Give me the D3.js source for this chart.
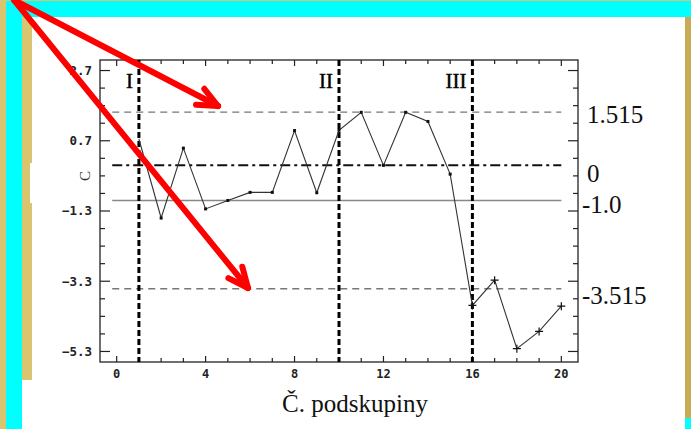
<!DOCTYPE html>
<html>
<head>
<meta charset="utf-8">
<script src="https://cdn.jsdelivr.net/npm/d3@7"></script>
<style>
  body { margin: 0; background: #fff; }
  svg { display: block; }
</style>
</head>
<body>
<div id="chart"></div>
<script>
// subgroup numbers and the plotted statistic
const subgroups = d3.range(1, 21);
const values = [0.75, -1.5, 0.49, -1.24, -1.0, -0.77, -0.77, 0.99, -0.78, 1.0,
                1.51, 0.0, 1.51, 1.25, -0.25, -3.99, -3.27, -5.22, -4.73, -4.01];
// points after the shift get "+" markers
const crossFrom = 16;

const phaseX = [1, 10, 16];
const phaseLabels = ["I", "II", "III"];

const refValues = [1.515, 0, -1.0, -3.515];
const refLabels = ["1.515", "0", "-1.0", "-3.515"];
const refStyles = ["dash", "dashdot", "solid", "dash"];

const yTickLabels = [2.7, 0.7, -1.3, -3.3, -5.3];
const xTickLabels = [0, 4, 8, 12, 16, 20];
const xTitle = "Č. podskupiny";

const W = 691, H = 429;
const svg = d3.select("#chart").append("svg").attr("width", W).attr("height", H);

// slide frame
svg.append("rect").attr("x", 0).attr("y", 0).attr("width", W).attr("height", 2).attr("fill", "#d9c56f");
svg.append("rect").attr("x", 0).attr("y", 0).attr("width", 6).attr("height", H).attr("fill", "#d9c56f");
svg.append("rect").attr("x", 6).attr("y", 1).attr("width", W - 6).attr("height", 16).attr("fill", "#00ffff");
svg.append("rect").attr("x", 6).attr("y", 1).attr("width", 16).attr("height", H).attr("fill", "#00ffff");
svg.append("rect").attr("x", 22).attr("y", 17).attr("width", 10).attr("height", 363).attr("fill", "#d9c56f");
svg.append("rect").attr("x", 685).attr("y", 17).attr("width", 6).attr("height", 401).attr("fill", "#c9ab55");
svg.append("rect").attr("x", 685).attr("y", 418).attr("width", 6).attr("height", 11).attr("fill", "#00ffff");
svg.append("rect").attr("x", 30).attr("y", 163).attr("width", 7).attr("height", 40).attr("fill", "#fff");

const pL = 100, pR = 578, pT = 60, pB = 362;
const x = d3.scaleLinear().domain([-0.75, 20.75]).range([pL, pR]);
const y = d3.scaleLinear().domain([-5.6, 3.0]).range([pB, pT]);

const g = svg.append("g");

// frame box
g.append("rect")
  .attr("x", pL).attr("y", pT)
  .attr("width", pR - pL).attr("height", pB - pT)
  .attr("fill", "none").attr("stroke", "#222").attr("stroke-width", 1.3);

// inward ticks, all four sides
const yMinor = d3.range(-5.3, 2.71, 0.5).map(v => +v.toFixed(1));
yMinor.forEach(v => {
  const major = yTickLabels.includes(v);
  const len = major ? 10 : 5;
  g.append("line").attr("x1", pL).attr("x2", pL + len).attr("y1", y(v)).attr("y2", y(v))
    .attr("stroke", "#222").attr("stroke-width", 1.2);
  g.append("line").attr("x1", pR).attr("x2", pR - len).attr("y1", y(v)).attr("y2", y(v))
    .attr("stroke", "#222").attr("stroke-width", 1.2);
});
d3.range(0, 21).forEach(v => {
  const len = v % 4 === 0 ? 6 : 4;
  g.append("line").attr("x1", x(v)).attr("x2", x(v)).attr("y1", pB).attr("y2", pB - len)
    .attr("stroke", "#222").attr("stroke-width", 1.2);
  g.append("line").attr("x1", x(v)).attr("x2", x(v)).attr("y1", pT).attr("y2", pT + len)
    .attr("stroke", "#222").attr("stroke-width", 1.2);
});

g.selectAll(".ylab").data(yTickLabels).enter().append("text")
  .attr("x", 92).attr("y", d => y(d)).attr("dy", "0.35em")
  .attr("text-anchor", "end")
  .style("font-family", "DejaVu Sans Mono").style("font-size", "12.5px")
  .style("font-weight", "bold").style("fill", "#222")
  .text(d => d.toFixed(1).replace("-", "\u2212"));

g.selectAll(".xlab").data(xTickLabels).enter().append("text")
  .attr("x", d => x(d)).attr("y", 378)
  .attr("text-anchor", "middle")
  .style("font-family", "DejaVu Sans Mono").style("font-size", "12px")
  .style("font-weight", "bold").style("fill", "#222")
  .text(d => d);

// reference lines
const dashes = { dash: "7,5", dashdot: "10,4,3,4", solid: null };
const strokes = { dash: "#777", dashdot: "#111", solid: "#888" };
const widths = { dash: 1.4, dashdot: 2, solid: 1.6 };
refValues.forEach((v, i) => {
  const s = refStyles[i];
  g.append("line")
    .attr("x1", x(-0.2)).attr("x2", x(20)).attr("y1", y(v)).attr("y2", y(v))
    .attr("stroke", strokes[s]).attr("stroke-width", widths[s])
    .attr("stroke-dasharray", dashes[s]);
});

// phase boundaries
phaseX.forEach((v, i) => {
  g.append("line")
    .attr("x1", x(v)).attr("x2", x(v)).attr("y1", pT).attr("y2", pB)
    .attr("stroke", "#000").attr("stroke-width", 3).attr("stroke-dasharray", "6,3");
  g.append("text")
    .attr("x", x(v) - 6).attr("y", 88)
    .attr("text-anchor", "end")
    .style("font-family", "Liberation Serif").style("font-size", "21px")
    .style("stroke", "#000").style("stroke-width", 0.4)
    .text(phaseLabels[i]);
});

// data line
const pts = subgroups.map((s, i) => ({ s, v: values[i] }));
g.append("path").datum(pts)
  .attr("fill", "none").attr("stroke", "#333").attr("stroke-width", 1.1)
  .attr("d", d3.line().x(d => x(d.s)).y(d => y(d.v)));

g.selectAll(".sq").data(pts.filter(d => d.s < crossFrom && d.s > 1)).enter().append("rect")
  .attr("x", d => x(d.s) - 1.5).attr("y", d => y(d.v) - 1.5)
  .attr("width", 3).attr("height", 3).attr("fill", "#111");

g.selectAll(".cr").data(pts.filter(d => d.s >= crossFrom)).enter().append("path")
  .attr("d", d => `M${x(d.s) - 4},${y(d.v)}h8M${x(d.s)},${y(d.v) - 4}v8`)
  .attr("stroke", "#111").attr("stroke-width", 1.2);

// right-hand value labels
const labelDy = [11, 17, 13, 15];
refValues.forEach((v, i) => {
  svg.append("text")
    .attr("x", i === 0 || i === 1 ? 587 : 582).attr("y", y(v) + labelDy[i])
    .style("font-family", "Liberation Serif").style("font-size", "25px").style("fill", "#111")
    .text(refLabels[i]);
});

// axis title
svg.append("text")
  .attr("x", 355).attr("y", 412).attr("text-anchor", "middle")
  .style("font-family", "Liberation Serif").style("font-size", "25px").style("fill", "#111")
  .text(xTitle);

// remnant of the y title
svg.append("text")
  .attr("transform", "translate(90,176) rotate(-90)")
  .attr("text-anchor", "middle")
  .style("font-family", "Liberation Serif").style("font-size", "15px").style("fill", "#333")
  .text("C");

// red arrows from the slide corner
const start = [14, 0];
const tips = [[218, 106], [248, 288]];
tips.forEach(t => {
  svg.append("line")
    .attr("x1", start[0]).attr("y1", start[1]).attr("x2", t[0]).attr("y2", t[1])
    .attr("stroke", "#ff0000").attr("stroke-width", 6).attr("stroke-linecap", "round");
  const a = Math.atan2(t[1] - start[1], t[0] - start[0]) + Math.PI;
  [-0.42, 0.42].forEach(o => {
    svg.append("line")
      .attr("x1", t[0]).attr("y1", t[1])
      .attr("x2", t[0] + 22 * Math.cos(a + o)).attr("y2", t[1] + 22 * Math.sin(a + o))
      .attr("stroke", "#ff0000").attr("stroke-width", 6).attr("stroke-linecap", "round");
  });
});
</script>
</body>
</html>
